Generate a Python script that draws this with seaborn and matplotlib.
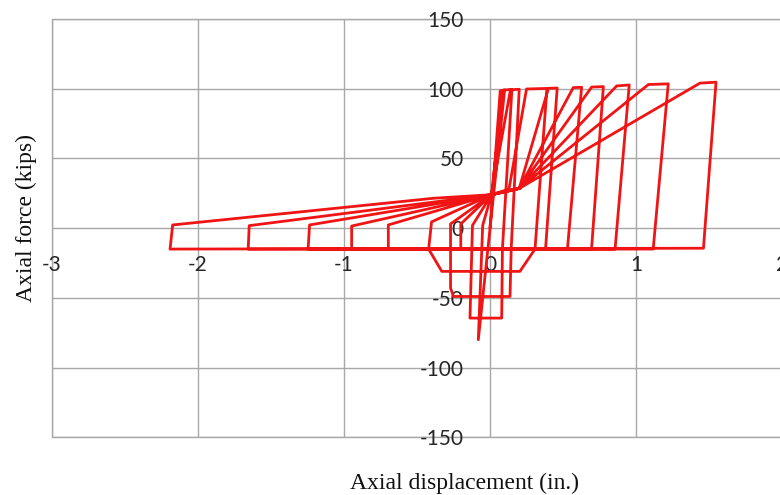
import matplotlib
matplotlib.use("Agg")
import matplotlib.pyplot as plt
import numpy as np
import pandas as pd
import seaborn as sns

# ---- data (displacement in., force kips) ----
# early cycles with degrading compression capacity
small_disp = [0.00, 0.07, 0.10, -0.08, -0.05, 0.01,
              0.09, 0.15, 0.085, 0.08, -0.137, -0.12, 0.01,
              0.14, 0.20, 0.145, 0.137, -0.25, -0.27, -0.27, 0.01,
              0.13, 0.25, 0.39, 0.308, 0.205, -0.33, -0.42, -0.40, 0.01]
small_force = [0, 98.5, 99.0, -80, 2, 24,
               99.0, 99.5, -15, -64.5, -64.5, 2, 24,
               99.2, 99.6, -15, -49, -49, -43, 3, 24,
               28, 99.8, 100.2, -15, -31, -31, -15, 4.5, 24]

# later, larger cycles
large_disp = [0.20, 0.40, 0.46, 0.38, -0.20, -0.20, 0.01,
              0.20, 0.57, 0.627, 0.53, -0.696, -0.696, 0.01,
              0.20, 0.696, 0.776, 0.695, -0.947, -0.947, 0.01,
              0.20, 0.867, 0.953, 0.856, -1.245, -1.235, 0.01,
              0.20, 1.084, 1.22, 1.117, -1.655, -1.648, 0.01,
              0.20, 1.437, 1.547, 1.461, -2.19, -2.172, -0.39, 0.01]
large_force = [28.5, 100.3, 100.5, -15, -15, 3, 24,
               28.5, 100.8, 101.0, -15, -15, 2.3, 24,
               28.5, 101.2, 101.5, -15, -15, 1.5, 24,
               28.5, 102.0, 102.7, -15, -15, 2.3, 24,
               28.5, 103.0, 103.5, -15, -15, 1.8, 24,
               28.5, 104.0, 104.7, -14.4, -15, 2.3, 21.4, 24]

x_ticks = [-3, -2, -1, 0, 1, 2]
x_tick_labels = ["-3", "-2", "-1", "0", "1", "2"]
y_ticks = [-150, -100, -50, 0, 50, 100, 150]
y_tick_labels = ["-150", "-100", "-50", "0", "50", "100", "150"]

x_title = "Axial displacement (in.)"
y_title = "Axial force (kips)"

# ---- figure ----
sns.set_theme(style="white")
plt.rcParams["font.family"] = ["Lato", "DejaVu Sans"]
plt.rcParams["axes.unicode_minus"] = False

W, H = 780, 495
fig = plt.figure(figsize=(W / 100, H / 100), dpi=100)
left_px, right_px, top_px, bot_px = 51.7, 782.2, 19.0, 437.3
ax = fig.add_axes([left_px / W, 1 - bot_px / H,
                   (right_px - left_px) / W, (bot_px - top_px) / H])

disp = small_disp + large_disp
force = small_force + large_force
df = pd.DataFrame({"disp": disp, "force": force})
sns.lineplot(data=df, x="disp", y="force", sort=False, estimator=None,
             color="#f01414", linewidth=2.0, ax=ax, zorder=3)

ax.set_xlim(-3, 2)
ax.set_ylim(-150, 150)
ax.set_xticks(x_ticks)
ax.set_xticklabels(x_tick_labels)
ax.set_yticks(y_ticks)
ax.set_yticklabels(y_tick_labels)
ax.set_xlabel("")
ax.set_ylabel("")

grid_color = "#a8a8a8"
ax.grid(True, color=grid_color, linewidth=1.0)
ax.set_axisbelow(True)
# plot-area frame (left, top, bottom edges) in the grid colour, behind labels
ax.axhline(y_ticks[0], color=grid_color, linewidth=1.0, clip_on=False, zorder=0.4)
ax.axhline(y_ticks[-1], color=grid_color, linewidth=1.0, clip_on=False, zorder=0.4)
ax.axvline(x_ticks[0], color=grid_color, linewidth=1.0, clip_on=False, zorder=0.4)

for s in ["left", "bottom"]:
    ax.spines[s].set_position(("data", 0))
    ax.spines[s].set_color("none")
for s in ["right", "top"]:
    ax.spines[s].set_visible(False)

ax.tick_params(axis="both", length=0, labelsize=15, labelcolor="#262626")
ax.tick_params(axis="x", pad=19)
ax.tick_params(axis="y", pad=19)

fig.text(465 / W, 1 - 483 / H, x_title, ha="center", va="center",
         family=["Liberation Serif", "DejaVu Serif"], fontsize=17, color="#111111")
fig.text(26 / W, 1 - 218 / H, y_title, ha="center", va="center", rotation=90,
         family=["Liberation Serif", "DejaVu Serif"], fontsize=17, color="#111111")

fig.savefig("out.png", dpi=100)
